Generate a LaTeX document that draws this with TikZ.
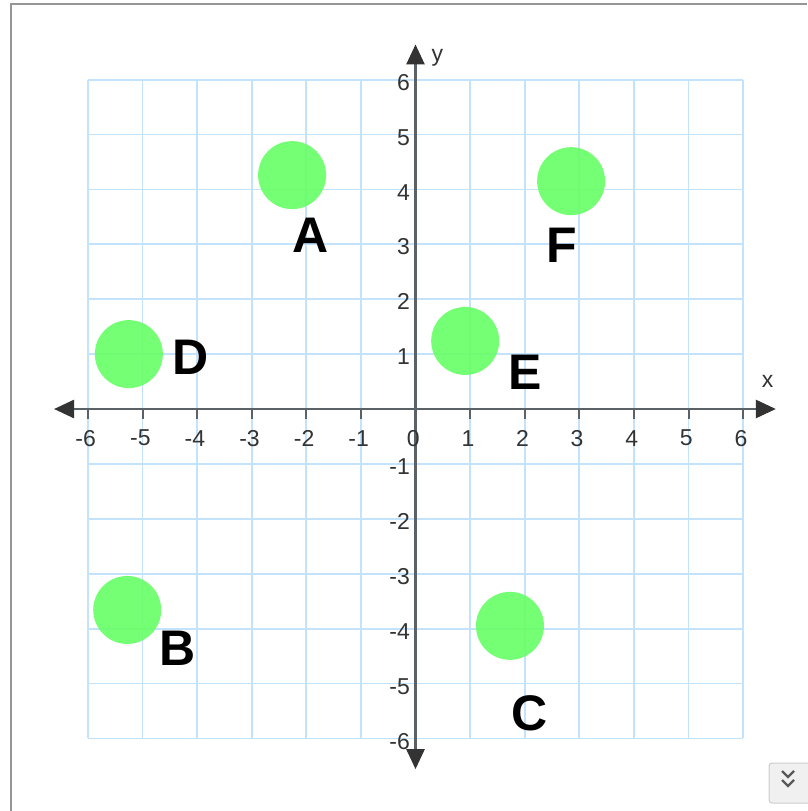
\documentclass[tikz,border=0pt]{standalone}
\usepackage{fontspec}
\setmainfont{Liberation Sans}
\usetikzlibrary{arrows.meta}
\definecolor{gridblue}{RGB}{195,226,252}
\definecolor{axisgray}{RGB}{90,98,104}
\definecolor{numgray}{RGB}{51,51,51}
\definecolor{dotgreen}{RGB}{102,255,102}
\definecolor{framegray}{RGB}{150,150,150}
\tikzset{
  gridline/.style={draw=gridblue, line width=1.8pt},
  axisline/.style={draw=axisgray, line width=2.6pt, {Triangle[length=20pt,width=18pt,color=black!80]}-{Triangle[length=20pt,width=18pt,color=black!80]}},
  tickline/.style={draw=axisgray, line width=2pt},
  numlab/.style={text=numgray, font=\fontsize{23}{26}\selectfont, inner sep=0pt},
  dot/.style={circle, fill=dotgreen, fill opacity=0.9, minimum size=68pt, inner sep=0pt},
  letter/.style={font=\fontsize{50}{56}\selectfont\bfseries, text=black, inner sep=0pt},
  axlab/.style={text=numgray, font=\fontsize{23}{26}\selectfont, inner sep=0pt}
}
\begin{document}
\begin{tikzpicture}[x=1pt,y=1pt]
\useasboundingbox (0,-811) rectangle (807,0);
\fill[white] (0,-811) rectangle (807,0);
% frame
\draw[framegray, line width=2pt] (11,-811) -- (11,-4) -- (807,-4);
% button
\draw[draw=black!20, fill=black!6, rounded corners=3pt, line width=1pt] (769,-803) rectangle (812,-763);
\draw[black!65, line width=2.2pt] (782,-771) -- (788,-777) -- (794,-771);
\draw[black!65, line width=2.2pt] (782,-780) -- (788,-786) -- (794,-780);
\begin{scope}[shift={(415.5,-409)}, x=54.6pt, y=54.9pt]
  % grid
  \foreach \i in {-6,...,6} {
    \draw[gridline] (\i,-6) -- (\i,6);
    \draw[gridline] (-6,\i) -- (6,\i);
  }
  % axes
  \coordinate (xl) at (-6.62,0);
  \coordinate (xr) at (6.6,0);
  \coordinate (yb) at (0,-6.56);
  \coordinate (yt) at (0,6.64);
  \draw[axisline] (xl) -- (xr);
  \draw[axisline] (yb) -- (yt);
  % ticks and labels
  \foreach \i in {-6,...,6} {
    \draw[tickline] (\i,0) -- (\i,-0.19);
    \node[numlab] (xt\i) at (\i-0.04,-0.53) {\i};
  }
  \foreach \j in {-6,...,-1,1,2,...,6} {
    \node[numlab, anchor=east] (yt\j) at (-0.1,\j-0.05) {\j};
  }
  \node[axlab] (xlab) at (6.45,0.5) {x};
  \node[axlab] (ylab) at (0.4,6.4) {y};
  % points
  \node[dot] (A) at (-2.26,4.26) {};
  \node[dot] (F) at (2.85,4.15) {};
  \node[dot] (D) at (-5.25,1.0) {};
  \node[dot] (E) at (0.91,1.24) {};
  \node[dot] (B) at (-5.28,-3.66) {};
  \node[dot] (C) at (1.73,-3.95) {};
  % letters
  \node[letter] (lA) at (-1.93,3.17) {A};
  \node[letter] (lF) at (2.68,2.98) {F};
  \node[letter] (lD) at (-4.12,0.94) {D};
  \node[letter] (lE) at (2.0,0.67) {E};
  \node[letter] (lB) at (-4.35,-4.35) {B};
  \node[letter] (lC) at (2.08,-5.55) {C};
\end{scope}
\end{tikzpicture}
\end{document}
